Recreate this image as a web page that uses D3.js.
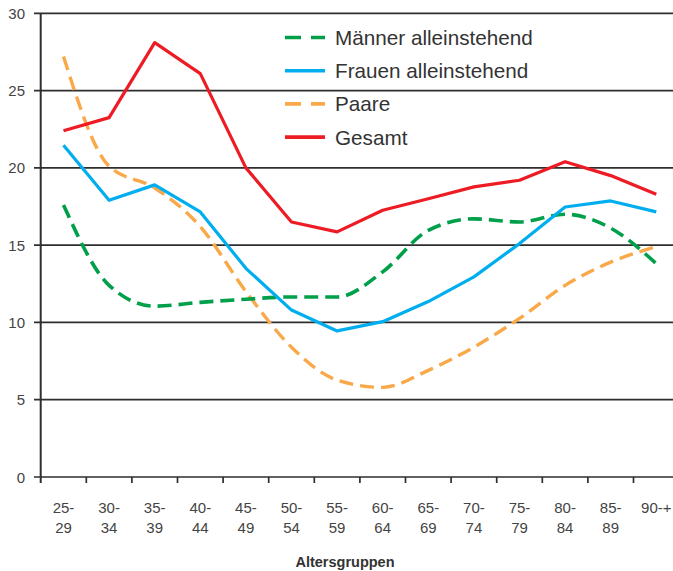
<!DOCTYPE html>
<html><head><meta charset="utf-8">
<script src="https://cdn.jsdelivr.net/npm/d3@7"></script>
<style>body{margin:0;background:#fff}svg{display:block;font-family:"Liberation Sans",Arial,sans-serif}</style>
</head><body><svg id="c" width="673" height="571"></svg>
<script>
const categories = [["25-","29"],["30-","34"],["35-","39"],["40-","44"],["45-","49"],["50-","54"],["55-","59"],["60-","64"],["65-","69"],["70-","74"],["75-","79"],["80-","84"],["85-","89"],["90-+",""]];
const maenner = [17.6,12.4,11.05,11.3,11.5,11.65,11.65,13.27,15.96,16.7,16.5,17.0,16.1,13.8];
const frauen  = [21.46,17.9,18.9,17.15,13.5,10.8,9.45,10.05,11.35,12.95,15.1,17.47,17.86,17.15];
const paare   = [27.2,20.1,18.7,16.2,12.0,8.4,6.27,5.8,6.9,8.4,10.26,12.4,13.9,14.9];
const gesamt  = [22.4,23.25,28.1,26.1,20.0,16.5,15.86,17.26,18.0,18.77,19.2,20.4,19.5,18.3];
const yTicks = [0,5,10,15,20,25,30];
const seriesNames = ["Männer alleinstehend","Frauen alleinstehend","Paare","Gesamt"];

const svg = d3.select("#c");
const cats = categories.map(c => c.join(" "));
const x = d3.scaleBand().domain(cats).range([40.7, 679.1]).padding(0);
const y = d3.scaleLinear().domain([0,30]).range([477, 13.3]);
const cx = i => x(cats[i]) + x.bandwidth()/2;
const ink = "#333";

// gridlines
svg.append("g").selectAll("line").data(yTicks).join("line")
  .attr("x1",34).attr("x2",673).attr("y1",d=>y(d)).attr("y2",d=>y(d))
  .attr("stroke","#2e2e2e").attr("stroke-width",1.7);
// y tick labels
svg.append("g").selectAll("text").data(yTicks).join("text")
  .attr("x",25).attr("y",d=>y(d)+5.5).attr("text-anchor","end")
  .attr("font-size",15).attr("fill","#444").text(d=>d);
// y axis line
svg.append("line").attr("x1",40.7).attr("x2",40.7).attr("y1",y(30)).attr("y2",483)
  .attr("stroke","#2e2e2e").attr("stroke-width",2);
// x ticks at band boundaries
svg.append("g").selectAll("line").data(cats.slice(1)).join("line")
  .attr("x1",d=>x(d)).attr("x2",d=>x(d)).attr("y1",477).attr("y2",483)
  .attr("stroke","#2e2e2e").attr("stroke-width",1.7);
// x labels
const xl = svg.append("g").selectAll("text").data(categories).join("text")
  .attr("font-size",15).attr("fill","#444").attr("text-anchor","middle");
xl.append("tspan").attr("x",(d,i)=>cx(i)).attr("y",513).text(d=>d[0]);
xl.append("tspan").attr("x",(d,i)=>cx(i)).attr("y",533).text(d=>d[1]);
svg.append("text").attr("x",345).attr("y",567).attr("text-anchor","middle")
  .attr("font-size",14.5).attr("font-weight","bold").attr("fill","#333").text("Altersgruppen");

const series = [
  {name:seriesNames[0], vals:maenner, color:"#00a04b", dash:"14,7", curve:d3.curveMonotoneX, w:3.6, ldash:"16,10"},
  {name:seriesNames[1], vals:frauen, color:"#00aeef", dash:null, curve:d3.curveLinear, w:3.2, ldash:null},
  {name:seriesNames[2], vals:paare, color:"#f9a84a", dash:"14,7", curve:d3.curveMonotoneX, w:3.4, ldash:"16,10"},
  {name:seriesNames[3], vals:gesamt, color:"#ed1c24", dash:null, curve:d3.curveLinear, w:3.2, ldash:null}
];
const drawOrder = [2,0,1,3];
drawOrder.forEach(k => {
  const s = series[k];
  const line = d3.line().x((d,i)=>cx(i)).y(d=>y(d)).curve(s.curve);
  svg.append("path").attr("d",line(s.vals)).attr("fill","none")
    .attr("stroke",s.color).attr("stroke-width",s.w)
    .attr("stroke-dasharray",s.dash).attr("stroke-linejoin","round");
});

// legend
const lg = svg.append("g");
series.forEach((s,i) => {
  const yy = 37.5 + i*33.2;
  lg.append("line").attr("x1",285).attr("x2",325).attr("y1",yy).attr("y2",yy)
    .attr("stroke",s.color).attr("stroke-width",3.6).attr("stroke-dasharray",s.ldash);
  lg.append("text").attr("x",335).attr("y",yy+7.5).attr("font-size",20.7)
    .attr("fill","#333").text(s.name);
});
</script></body></html>
